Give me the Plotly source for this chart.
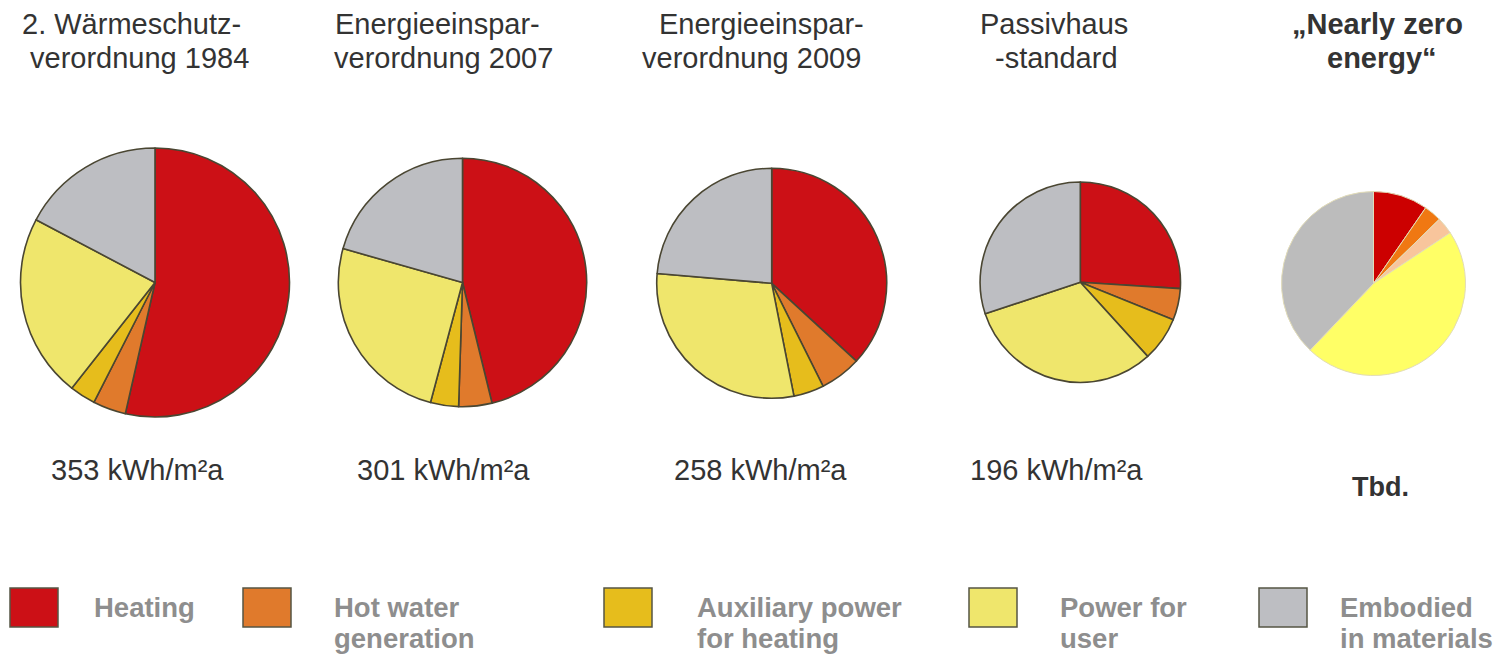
import plotly.graph_objects as go
import math

W, H = 1499, 654

categories = ["Heating", "Hot water generation", "Auxiliary power for heating",
              "Power for user", "Embodied in materials"]
standards = ["2. Wärmeschutzverordnung 1984", "Energieeinsparverordnung 2007",
             "Energieeinsparverordnung 2009", "Passivhausstandard", "Nearly zero energy"]
title_lines = [["2. Wärmeschutz-", "verordnung 1984"],
               ["Energieeinspar-", "verordnung 2007"],
               ["Energieeinspar-", "verordnung 2009"],
               ["Passivhaus", "-standard"],
               ["„Nearly zero", "energy“"]]
totals_label = ["353 kWh/m²a", "301 kWh/m²a", "258 kWh/m²a", "196 kWh/m²a", "Tbd."]

wsv_1984 = [189, 14, 11, 78, 61]
enev_2007 = [139, 13, 11, 76, 62]
enev_2009 = [95, 15, 11, 76, 61]
passivhaus = [51, 10, 14, 62, 59]
nearly_zero = [9.6, 3.1, 3.0, 46.4, 37.9]   # shares in %, total to be determined
series = [wsv_1984, enev_2007, enev_2009, passivhaus, nearly_zero]

legend_labels = [["Heating"], ["Hot water", "generation"], ["Auxiliary power", "for heating"],
                 ["Power for", "user"], ["Embodied", "in materials"]]

colors = ["#cc1016", "#e07a2c", "#e6bd1c", "#efe66c", "#bdbec2"]
colors_nz = ["#cc0000", "#f07812", "#f8c59c", "#ffff66", "#bcbcbc"]

# layout (pixels)
centers = [(155, 282.5), (462.5, 282.5), (771.7, 283.3), (1080.3, 282.2), (1373.5, 283.5)]
r_ref = 134.5
radii = [r_ref * math.sqrt(sum(s) / sum(wsv_1984)) for s in series[:4]] + [92]

def px(x):
    return x / W

def py(y):
    return 1 - y / H

fig = go.Figure()
for i, vals in enumerate(series):
    cx, cy = centers[i]
    r = radii[i]
    nz = i == 4
    fig.add_trace(go.Pie(
        labels=categories, values=vals, sort=False, direction="clockwise", rotation=0,
        textinfo="none", hoverinfo="label+value+percent", name=standards[i],
        marker=dict(colors=colors_nz if nz else colors,
                    line=dict(color="#e2dcb8" if nz else "#4a4632", width=1 if nz else 1.6)),
        domain=dict(x=[px(cx - r), px(cx + r)], y=[py(cy + r), py(cy - r)]),
        showlegend=False,
    ))

font_family = "Liberation Sans, Arial, sans-serif"
ann = []
# titles
title_pos = [[(20, 23.5), (28, 58)], [(333, 23.5), (332, 58)], [(657, 23.5), (640, 58)],
             [(978, 23.5), (993, 58)], [(1290, 23.5), (1325, 58)]]
for k, (lines, poss) in enumerate(zip(title_lines, title_pos)):
    for t, (x, y) in zip(lines, poss):
        ann.append(dict(text="<b>" + t + "</b>" if k == 4 else t, x=px(x), y=py(y),
                        xref="paper", yref="paper",
                        xanchor="left", yanchor="middle", showarrow=False,
                        font=dict(family=font_family, size=29, color="#333333")))
# totals
label_pos = [(137, 470), (443, 470), (761, 470), (1056, 470), (1380, 487)]
for i, (t, (x, y)) in enumerate(zip(totals_label, label_pos)):
    txt = t if i < 4 else "<b>" + t + "</b>"
    ann.append(dict(text=txt, x=px(x), y=py(y), xref="paper", yref="paper",
                    xanchor="center", yanchor="middle", showarrow=False,
                    font=dict(family=font_family, size=29 if i < 4 else 27, color="#333333")))

# legend
sq_x = [10, 243, 604, 969, 1259]
sq_w = 48
sq_y0, sq_y1 = 588, 627
txt_x = [92, 332, 695, 1058, 1338]
shapes = []
for i in range(5):
    shapes.append(dict(type="rect", xref="paper", yref="paper",
                       x0=px(sq_x[i]), x1=px(sq_x[i] + sq_w), y0=py(sq_y1), y1=py(sq_y0),
                       fillcolor=colors[i], line=dict(color="#555544", width=1.5)))
    for j, t in enumerate(legend_labels[i]):
        ann.append(dict(text="<b>" + t + "</b>", x=px(txt_x[i]), y=py(607 + 31 * j),
                        xref="paper", yref="paper", xanchor="left", yanchor="middle",
                        showarrow=False,
                        font=dict(family=font_family, size=27.5, color="#8e8e8e")))

fig.update_layout(width=W, height=H, margin=dict(l=0, r=0, t=0, b=0),
                  paper_bgcolor="white", plot_bgcolor="white",
                  annotations=ann, shapes=shapes)
fig.write_html("out.html", config={"displayModeBar": False},
               post_script="document.body.style.margin='0';document.body.style.padding='0';")
